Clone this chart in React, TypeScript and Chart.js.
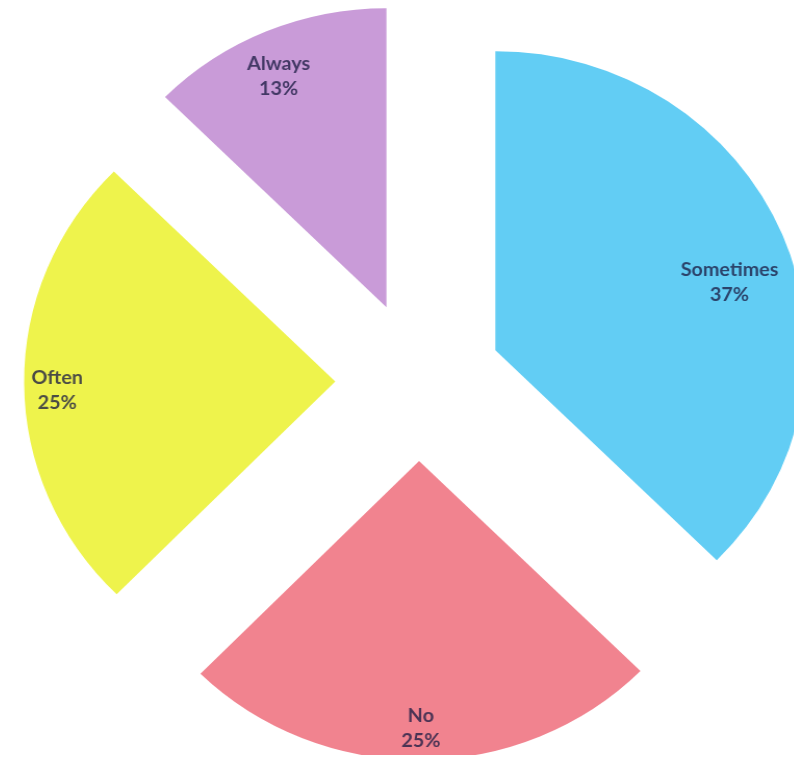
import React, { useEffect, useRef } from 'react';
import { Chart, registerables } from 'chart.js';

Chart.register(...registerables);

// ---- data ----
const categories = ['Sometimes', 'No', 'Often', 'Always'];
const percentages = [37.4, 25, 25, 12.6];

// ---- styling ----
const sliceColors = ['#62CDF4', '#F1838F', '#EEF34C', '#C99BD8'];
const EXPLODE = 80; // px each slice is pulled out from the centre
const RADIUS = 299;
const STRETCH = 1.04; // the reference is slightly wider than tall
const DRAW_W = 763;
const DRAW_H = 755;
const labelRadius = [0.786, 0.895, 0.894, 0.846]; // fraction of the radius
const labelAngleFraction = [0.544, 0.5, 0.483, 0.467]; // position within the slice's sweep
const LABEL_FONT = '700 19px Lato, "Open Sans", sans-serif';
const LABEL_COLOR = 'rgba(28, 28, 68, 0.78)';
const LINE_GAP = 25.5;

const explodePlugin = {
  id: 'explodeSlices',
  afterDatasetsUpdate(chart: any) {
    const meta = chart.getDatasetMeta(0);
    meta.data.forEach((arc: any) => {
      const mid = (arc.startAngle + arc.endAngle) / 2;
      arc.x += Math.cos(mid) * EXPLODE;
      arc.y += Math.sin(mid) * EXPLODE;
    });
  },
};

const labelPlugin = {
  id: 'sliceLabels',
  afterDatasetsDraw(chart: any) {
    const ctx = chart.ctx;
    const meta = chart.getDatasetMeta(0);
    ctx.save();
    ctx.font = LABEL_FONT;
    ctx.fillStyle = LABEL_COLOR;
    ctx.textAlign = 'center';
    ctx.textBaseline = 'middle';
    meta.data.forEach((arc: any, i: number) => {
      const ang = arc.startAngle + (arc.endAngle - arc.startAngle) * labelAngleFraction[i];
      const r = arc.outerRadius * labelRadius[i];
      const x = arc.x + Math.cos(ang) * r;
      const y = arc.y + Math.sin(ang) * r;
      ctx.fillText(categories[i], x, y - LINE_GAP / 2);
      ctx.fillText(`${Math.round(percentages[i])}%`, x, y + LINE_GAP / 2);
    });
    ctx.restore();
  },
};

export default function App() {
  const canvasRef = useRef<HTMLCanvasElement | null>(null);

  useEffect(() => {
    if (!canvasRef.current) return;
    const chart = new Chart(canvasRef.current, {
      type: 'pie',
      data: {
        labels: categories,
        datasets: [
          {
            data: percentages,
            backgroundColor: sliceColors,
            borderWidth: 0,
            radius: RADIUS,
            clip: false,
          } as any,
        ],
      },
      options: {
        responsive: false,
        maintainAspectRatio: false,
        animation: false,
        events: [],
        layout: { padding: { left: 33, right: 7, top: 0, bottom: 9 } },
        plugins: {
          legend: { display: false },
          tooltip: { enabled: false },
        },
      },
      plugins: [explodePlugin, labelPlugin],
    });
    return () => chart.destroy();
  }, []);

  const cssW = Math.round(DRAW_W * STRETCH);
  return (
    <div
      style={{
        width: cssW,
        height: DRAW_H,
        marginBottom: -8,
        marginRight: -8,
        overflow: 'hidden',
        position: 'relative',
      }}
    >
      <canvas
        ref={canvasRef}
        width={DRAW_W}
        height={DRAW_H}
        style={{ display: 'block', width: cssW, height: DRAW_H }}
      />
    </div>
  );
}
